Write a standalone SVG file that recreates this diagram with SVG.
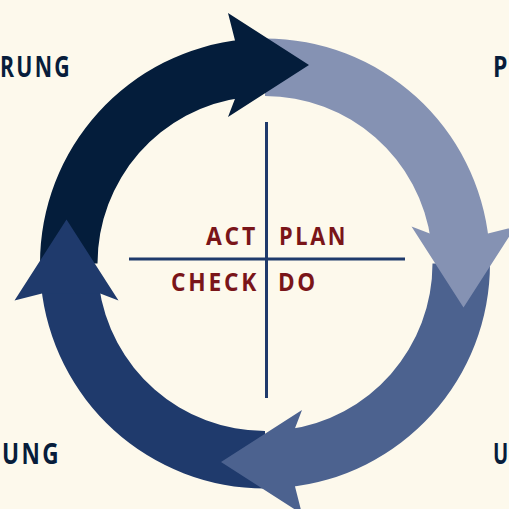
<svg xmlns="http://www.w3.org/2000/svg" xmlns:xlink="http://www.w3.org/1999/xlink" width="509" height="509" viewBox="0 0 509 509">
  <style>
    .bg { fill: #fdf9ec; }
    .phase { font-family: "Open Sans", "Liberation Sans", sans-serif; font-weight: 700; font-size: 25px; fill: #7a1519; letter-spacing: 3px; }
    .stage { font-family: "Open Sans", "Liberation Sans", sans-serif; font-weight: 700; font-size: 28px; fill: #071d3b; letter-spacing: 3px; }
    .edge { letter-spacing: 0; }
    .axis { stroke: #1f3a6b; stroke-width: 3; fill: none; }
    .act { fill: #041d3b; }
    .plan { fill: #8592b3; }
    .do { fill: #4c628f; }
    .check { fill: #1f3a6c; }
  </style>
  <defs>
    <!-- quarter-ring arrow body, drawn for the upper-left quadrant (centre 265,263.5) -->
    <path id="arrow-body" d="M40,263.5 A225,225 0 0 1 243,39.6 L243,97.45 A167.5,167.5 0 0 0 97.5,263.5 Z"/>
    <!-- barbed arrow head sitting across the top axis -->
    <polygon id="arrow-head" points="228,13 309,65 228,117 235,98.7 235,40.5"/>
  </defs>

  <rect class="bg" x="0" y="0" width="509" height="509"/>

  <!-- the four cycle arrows: bodies first, so every head lies over the next tail -->
  <g id="connectors">
    <g id="arrow-bodies">
      <use xlink:href="#arrow-body" class="act"/>
      <use xlink:href="#arrow-body" class="plan" transform="rotate(90 265 263.5)"/>
      <use xlink:href="#arrow-body" class="do" transform="rotate(180 265 263.5)"/>
      <use xlink:href="#arrow-body" class="check" transform="rotate(270 265 263.5)"/>
    </g>
    <g id="arrow-heads">
      <use xlink:href="#arrow-head" class="act"/>
      <use xlink:href="#arrow-head" class="plan" transform="rotate(90 265 263.5)"/>
      <use xlink:href="#arrow-head" class="do" transform="rotate(180 265 263.5)"/>
      <use xlink:href="#arrow-head" class="check" transform="rotate(270 265 263.5)"/>
    </g>
  </g>

  <!-- quadrant cross -->
  <g id="quadrants">
    <line class="axis" x1="266.5" y1="122" x2="266.5" y2="398"/>
    <line class="axis" x1="129" y1="259" x2="405" y2="259"/>
  </g>

  <g id="act">
    <text class="phase" x="206" y="245" textLength="52" lengthAdjust="spacingAndGlyphs">ACT</text>
  </g>
  <g id="plan">
    <text class="phase" x="279" y="245" textLength="69" lengthAdjust="spacingAndGlyphs">PLAN</text>
  </g>
  <g id="check">
    <text class="phase" x="171" y="291" textLength="88" lengthAdjust="spacingAndGlyphs">CHECK</text>
  </g>
  <g id="do">
    <text class="phase" x="278" y="291" textLength="40" lengthAdjust="spacingAndGlyphs">DO</text>
  </g>

  <!-- stage captions at the corners (the right-hand ones narrowed to sit inside the edge) -->
  <g id="stage-top-left">
    <text class="stage" x="0" y="77" textLength="72" lengthAdjust="spacingAndGlyphs">RUNG</text>
  </g>
  <g id="stage-top-right">
    <text class="stage edge" transform="translate(493 77) scale(0.82 1)">P</text>
  </g>
  <g id="stage-bottom-left">
    <text class="stage" x="2" y="464" textLength="59" lengthAdjust="spacingAndGlyphs">UNG</text>
  </g>
  <g id="stage-bottom-right">
    <text class="stage edge" transform="translate(493 464) scale(0.72 1)">U</text>
  </g>
</svg>
